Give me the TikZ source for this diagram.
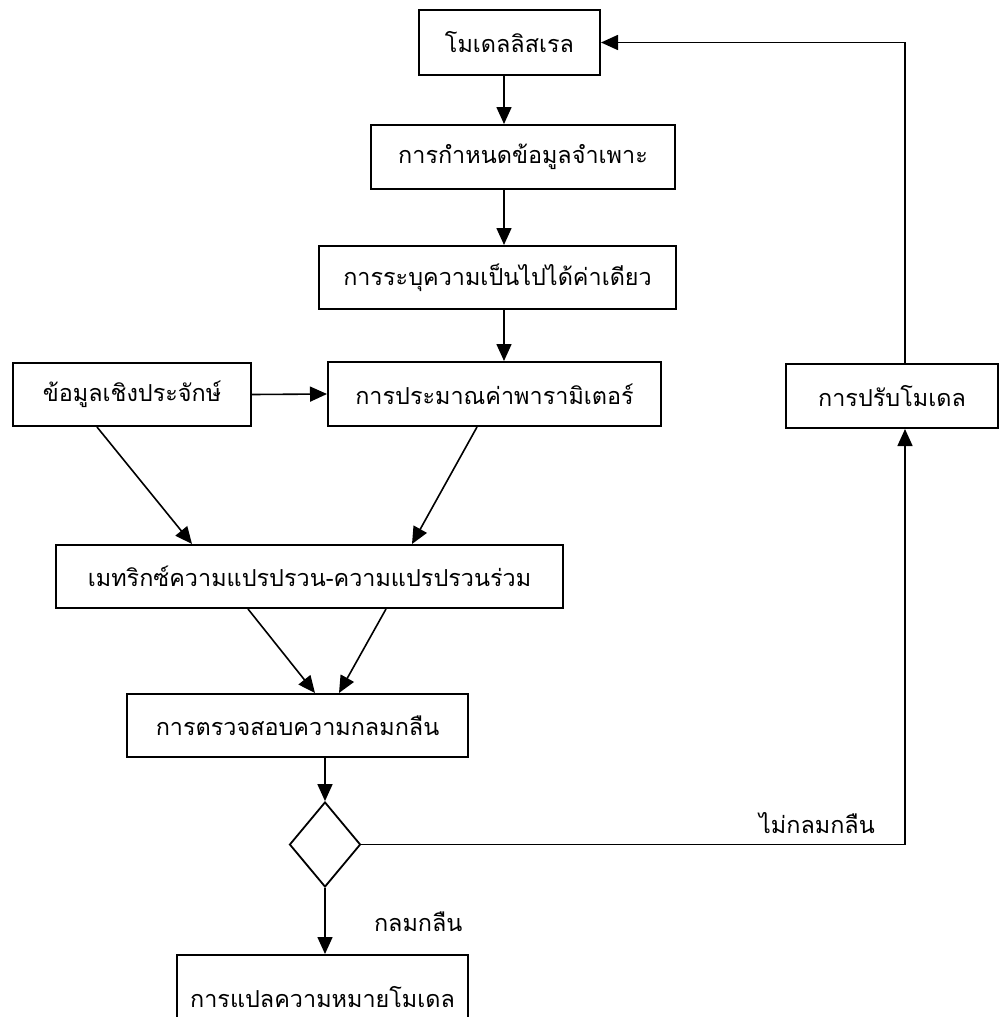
\documentclass[tikz,border=0pt]{standalone}
\usepackage{fontspec}
\newfontfamily\thaifont[Script=Thai]{Loma}
\usetikzlibrary{shapes.geometric, arrows.meta, positioning, calc}

\tikzset{
    stagebox/.style={draw, line width=1pt, rectangle, inner sep=0pt, font=\thaifont\fontsize{11.7}{14}\selectfont},
    choice/.style={draw, line width=0.9pt, diamond, inner sep=0pt, minimum width=35.5pt, minimum height=42.5pt},
    flow/.style={line width=0.8pt, -{Triangle[length=8.5pt, width=7.5pt]}},
    tag/.style={font=\thaifont\fontsize{11.7}{14}\selectfont}
}

\begin{document}
\begin{tikzpicture}[x=0.5pt, y=-0.5pt]
    \clip (0,0) rectangle (999,1017);

    % Main chain
    \node[stagebox, minimum width=90.5pt, minimum height=32.5pt] (model) at (509.5, 42.5) {โมเดลลิสเรล};
    \node[stagebox, minimum width=152pt, minimum height=32pt] (spec) at (523, 157) {การกำหนดข้อมูลจำเพาะ};
    \node[stagebox, minimum width=178.5pt, minimum height=31.5pt] (ident) at (497.5, 277.5) {การระบุความเป็นไปได้ค่าเดียว};
    \node[stagebox, minimum width=166.5pt, minimum height=32pt] (estim) at (494.5, 394) {การประมาณค่าพารามิเตอร์};
    \node[stagebox, minimum width=119pt, minimum height=31.5pt] (data) at (132, 394.5) {ข้อมูลเชิงประจักษ์};
    \node[stagebox, minimum width=253.5pt, minimum height=31.5pt] (matrix) at (309.5, 576.5) {เมทริกซ์ความแปรปรวน-ความแปรปรวนร่วม};
    \node[stagebox, minimum width=170.5pt, minimum height=31.5pt] (fit) at (297.5, 725.5) {การตรวจสอบความกลมกลืน};
    \node[choice] (decide) at (325, 844.5) {};
    \node[stagebox, minimum width=145.5pt, minimum height=42pt] (interp) at (322.5, 997) {การแปลความหมายโมเดล};
    \node[stagebox, minimum width=106pt, minimum height=32pt] (modify) at (892, 396) {การปรับโมเดล};

    % Helper points
    \coordinate (axis) at (504, 0);
    \coordinate (turn) at (905, 844.5);

    % Connectors
    \draw[flow] (model.south -| axis) -- (spec.north -| axis);
    \draw[flow] (spec.south -| axis) -- (ident.north -| axis);
    \draw[flow] (ident.south -| axis) -- (estim.north -| axis);
    \draw[flow] (data.east) -- (estim.west);
    \draw[flow] ([xshift=-17.5pt]data.south) -- ([xshift=-58.75pt]matrix.north);
    \draw[flow] ([xshift=-8.75pt]estim.south) -- ([xshift=51.25pt]matrix.north);
    \draw[flow] ([xshift=-30.75pt]matrix.south) -- ([xshift=8.75pt]fit.north);
    \draw[flow] ([xshift=38.25pt]matrix.south) -- ([xshift=20.75pt]fit.north);
    \draw[flow] (fit.south -| decide.north) -- (decide.north);
    \draw[flow] (decide.south) -- (decide.south |- interp.north);
    \draw[line width=0.8pt] (decide.east) -- (turn);
    \draw[flow] (turn) -- (turn |- modify.south);
    \draw[flow] (modify.north -| turn) -- (turn |- model.east) -- (model.east);

    % Labels
    \node[tag, anchor=west] (yes) at (367, 922) {กลมกลืน};
    \node[tag] (no) at (817, 823) {ไม่กลมกลืน};
\end{tikzpicture}
\end{document}
